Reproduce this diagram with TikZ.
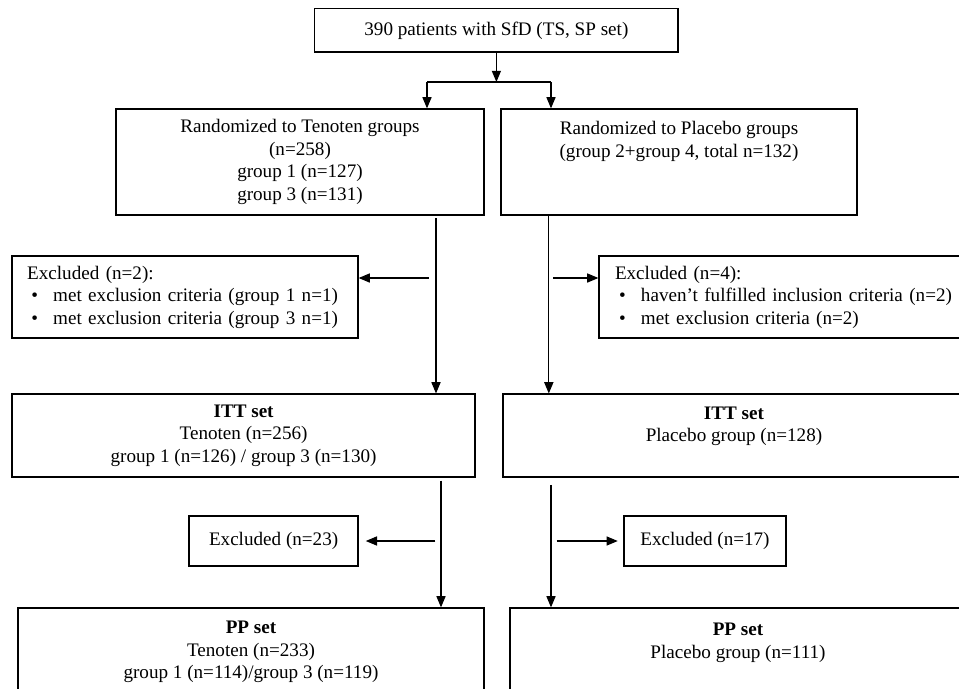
\documentclass[tikz,border=0pt]{standalone}
\usepackage{fontspec}
\setmainfont{Liberation Serif}
\usetikzlibrary{arrows.meta,positioning,calc}
\newcommand{\bitem}{\hspace*{3pt}\makebox[15.5pt][l]{\textbullet}}

\begin{document}
\begin{tikzpicture}[font=\fontsize{13.6}{16}\selectfont,
  box/.style={draw, line width=0.9pt, align=center, inner sep=0pt},
  list/.style={box, align=left, inner xsep=0.38cm},
  arr/.style={-{Triangle[length=8pt, width=6.5pt]}, line width=0.8pt}]
  \useasboundingbox (0,0) rectangle (23.975,-17.225);
  \clip (0,0) rectangle (23.975,-17.225);
  \fill[white] (0,0) rectangle (23.975,-17.225);
  % boxes
  \node[box, minimum width=9.08cm, minimum height=1.08cm] (start) at (12.41,-0.76) {390 patients with SfD (TS, SP set)};
  \node[box, minimum width=9.2cm, minimum height=2.65cm] (rnd1) at (7.5,-4.05) {Randomized to Tenoten groups\\(n=258)\\group 1 (n=127)\\group 3 (n=131)};
  \node[box, minimum width=8.9cm, minimum height=2.65cm] (rnd2) at (16.975,-4.05) {Randomized to Placebo groups\\(group 2+group 4, total n=132)\\~\\~};
  \node[list, minimum width=8.65cm, minimum height=2.05cm, text width=7.89cm] (exl) at (4.625,-7.425) {Excluded (n=2):\\\bitem met exclusion criteria (group 1 n=1)\\\bitem met exclusion criteria (group 3 n=1)};
  \node[list, inner xsep=0.4cm, minimum width=10cm, minimum height=2.05cm, text width=9.2cm] (exr) at (19.975,-7.425) {Excluded (n=4):\\\bitem haven’t fulfilled inclusion criteria (n=2)\\\bitem met exclusion criteria (n=2)};
  \node[box, minimum width=11.575cm, minimum height=2.075cm] (itt1) at (6.09,-10.89) {\textbf{ITT set}\\Tenoten (n=256)\\group 1 (n=126) / group 3 (n=130)};
  \node[box, minimum width=11.55cm, minimum height=2.075cm] (itt2) at (18.35,-10.89) {\textbf{ITT set}\\Placebo group (n=128)\\~};
  \node[box, minimum width=4.225cm, minimum height=1.25cm] (exm1) at (6.84,-13.525) {Excluded (n=23)};
  \node[box, minimum width=4.05cm, minimum height=1.25cm] (exm2) at (17.625,-13.525) {Excluded (n=17)};
  \node[box, minimum width=11.65cm, minimum height=2.2cm] (pp1) at (6.275,-16.3) {\textbf{PP set}\\Tenoten (n=233)\\group 1 (n=114)/group 3 (n=119)};
  \node[box, minimum width=11.4cm, minimum height=2.2cm] (pp2) at (18.45,-16.3) {\textbf{PP set}\\Placebo group (n=111)\\~};
  % split below the first box
  \coordinate (split) at (12.41,-2.05);
  \coordinate (bl) at (10.675,-2.05);
  \coordinate (br) at (13.775,-2.05);
  \coordinate (vl) at (10.9,0);
  \coordinate (vr) at (13.72,0);
  \coordinate (vl2) at (11.025,0);
  \coordinate (vr2) at (13.775,0);
  \draw[arr] (start.south) -- (split);
  \draw[line width=0.8pt] (bl) -- (br);
  \draw[arr] (bl) -- (bl |- rnd1.north);
  \draw[arr] (br) -- (br |- rnd2.north);
  % randomized to ITT
  \draw[arr] ([yshift=-2pt]rnd1.south -| vl) -- (itt1.north -| vl);
  \draw[arr] (rnd2.south -| vr) -- (itt2.north -| vr);
  \draw[arr, shorten <=5pt] ([yshift=0.475cm]exl.east -| vl) -- ([yshift=0.475cm]exl.east);
  \draw[arr, shorten <=3pt] ([yshift=0.475cm]exr.west -| vr) -- ([yshift=0.475cm]exr.west);
  % ITT to PP
  \draw[arr] ([yshift=-2pt]itt1.south -| vl2) -- (pp1.north -| vl2);
  \draw[arr] ([yshift=-5pt]itt2.south -| vr2) -- (pp2.north -| vr2);
  \draw[arr, shorten <=4pt, shorten >=5pt] (exm1.east -| vl2) -- (exm1.east);
  \draw[arr, shorten <=4pt, shorten >=4pt] (exm2.west -| vr2) -- (exm2.west);
\end{tikzpicture}
\end{document}
